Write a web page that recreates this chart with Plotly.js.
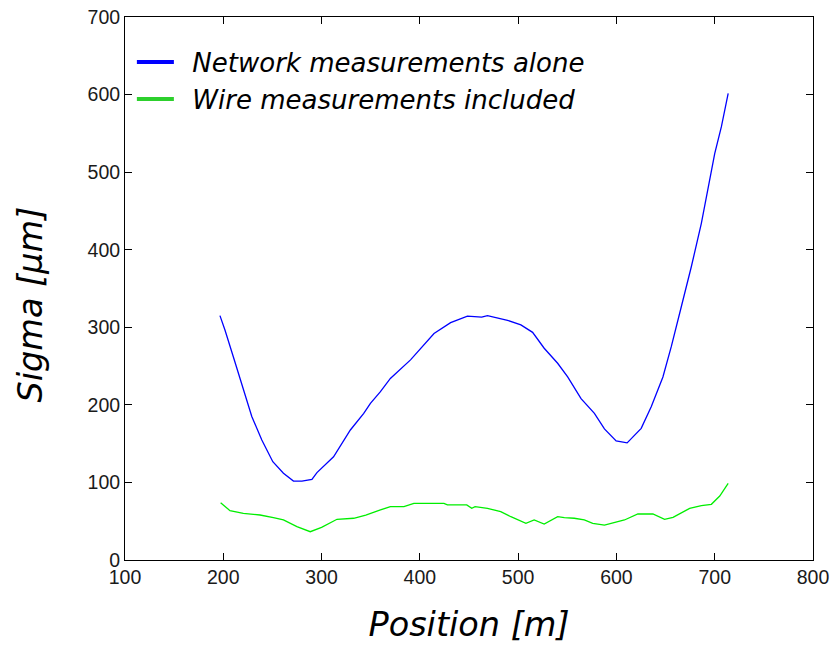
<!DOCTYPE html>
<html>
<head>
<meta charset="utf-8">
<script src="https://cdn.plot.ly/plotly-3.0.1.min.js"></script>
<style>html,body{margin:0;padding:0;background:#fff;}#chart{width:830px;height:654px;}</style>
</head>
<body>
<div id="chart"></div>
<script>
// Network measurements alone (blue)
var networkPos = [196.6, 201.7, 210.2, 220.4, 229, 239.2, 250.4, 261.2, 271.4, 280, 290.2, 295.3, 312.2, 329.3, 342.9, 349.7, 359.9, 370, 390.5, 414.4, 431.3, 448.4, 462.9, 468.8, 489.2, 502.8, 514.7, 526.5, 540.2, 550.4, 564, 577.6, 587.8, 599.7, 610.9, 625.2, 635.4, 647.3, 655.8, 666, 676.2, 686.4, 693.3, 700, 706.8, 713.7];
var networkSigma = [315, 296.5, 262, 219, 185, 154.7, 126.7, 111.8, 101.8, 101.8, 104, 112.6, 133, 167.6, 189, 202, 217, 234, 258, 292, 306, 314.5, 313, 315, 309, 303, 293.5, 273, 253.6, 236, 208, 189, 169, 153.6, 151, 169.7, 197.6, 236, 275, 326.5, 378, 434, 481, 524, 558.6, 601.6];

// Wire measurements included (green)
var wirePos = [197.3, 206.8, 220.4, 237.4, 251, 261.2, 274.9, 288.5, 300, 315.7, 332.7, 345, 359.9, 370, 383.8, 393.9, 424.5, 428, 447.7, 452.8, 456.2, 468.8, 482.3, 492.6, 507.9, 516.3, 526.5, 540.2, 547, 557.1, 567.3, 575.9, 587.8, 594.6, 608.2, 621.8, 637.1, 649, 657.6, 674.5, 686.4, 696.6, 705.1, 713.7];
var wireSigma = [73.9, 63.6, 60.2, 58, 54.5, 51.6, 43, 36.5, 42, 52.5, 53.8, 58, 64.5, 68.7, 68.7, 73, 73, 71, 71, 66.6, 68.7, 66.6, 62.3, 55.8, 47.3, 51.6, 46.4, 55.8, 54.5, 53.8, 51.6, 47.3, 45.1, 47.3, 51.6, 59.3, 59.3, 52.5, 55, 66.6, 70, 71.8, 82.5, 98.9];

var seriesNames = ["Network measurements alone", "Wire measurements included"];
var xTitle = "Position [m]";
var yTitle = "Sigma [\u00b5m]";

var blue = "#0000ff";
var green = "#00ee00";

var traces = [
  {x: networkPos, y: networkSigma, mode: "lines", line: {color: blue, width: 1.3}, showlegend: false, hoverinfo: "x+y"},
  {x: wirePos, y: wireSigma, mode: "lines", line: {color: green, width: 1.3}, showlegend: false, hoverinfo: "x+y"},
  {x: [null], y: [null], mode: "lines", name: "\u00a0\u2009" + seriesNames[0], line: {color: blue, width: 4}},
  {x: [null], y: [null], mode: "lines", name: "\u00a0\u2009" + seriesNames[1], line: {color: "#2dd02d", width: 4}}
];

var tickFont = {family: "Liberation Sans, Arial, sans-serif", size: 19.5, color: "#1a1a1a"};
var titleFont = {family: "DejaVu Sans, sans-serif", size: 33.5, color: "#000", style: "italic"};

var axisCommon = {
  showline: true, linecolor: "#000", linewidth: 1,
  mirror: "ticks", ticks: "inside", ticklen: 7, tickcolor: "#000", tickwidth: 1,
  showgrid: false, zeroline: false, tickfont: tickFont, dtick: 100, tick0: 0
};

var layout = {
  width: 830, height: 654,
  margin: {l: 125, r: 17, t: 17, b: 94, pad: 0},
  paper_bgcolor: "#fff", plot_bgcolor: "#fff",
  xaxis: Object.assign({}, axisCommon, {range: [100, 800], title: {text: xTitle, font: titleFont, standoff: 25}}),
  yaxis: Object.assign({}, axisCommon, {range: [0, 700]}),
  annotations: [{
    text: yTitle, textangle: -90, font: titleFont, showarrow: false,
    xref: "paper", yref: "paper", x: 0, y: 0.5, xanchor: "center", yanchor: "middle",
    xshift: -95, yshift: -16
  }],
  legend: {
    x: 0.01, y: 0.96, xanchor: "left", yanchor: "top",
    bgcolor: "rgba(0,0,0,0)", borderwidth: 0,
    font: {family: "DejaVu Sans, sans-serif", size: 26, color: "#000", style: "italic"},
    itemwidth: 37, tracegroupgap: 0
  },
  showlegend: true
};

Plotly.newPlot("chart", traces, layout, {displayModeBar: false, staticPlot: true});
</script>
</body>
</html>
